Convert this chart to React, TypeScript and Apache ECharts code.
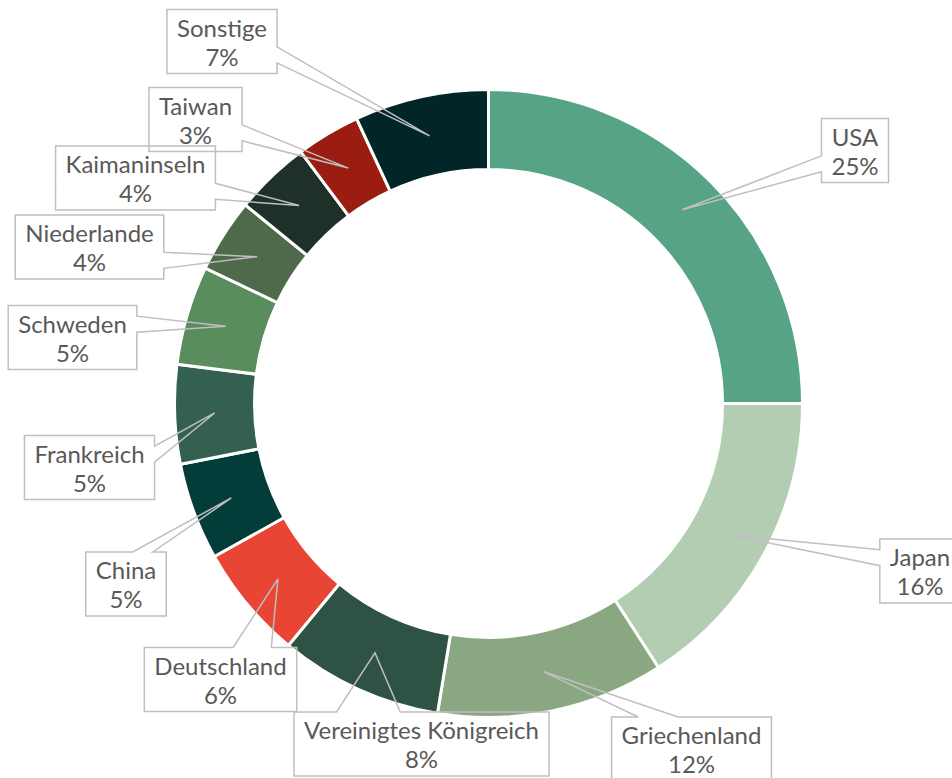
import React, { useEffect, useRef } from "react";
import * as echarts from "echarts";

// ---- data ----
const countries = [
  "USA",
  "Japan",
  "Griechenland",
  "Vereinigtes Königreich",
  "Deutschland",
  "China",
  "Frankreich",
  "Schweden",
  "Niederlande",
  "Kaimaninseln",
  "Taiwan",
  "Sonstige",
];
const shares = [25.0, 15.9, 11.7, 8.4, 5.9, 5.0, 5.1, 5.1, 3.8, 3.9, 3.3, 6.9];
const colors = [
  "#56A385",
  "#B3CDB3",
  "#89A882",
  "#2E5243",
  "#E84535",
  "#033D3A",
  "#34614F",
  "#5A8D5D",
  "#4F6A4A",
  "#1F3029",
  "#9B1C11",
  "#022628",
];

// ---- layout (label callout box centres and wedge side) ----
const labelCenterX = [855, 920, 691.5, 421.5, 220.5, 126, 89.5, 72.5, 89.5, 135.5, 195.5, 222];
const labelCenterY = [150.5, 571, 749, 744, 679.5, 584, 467.5, 337.5, 247, 178, 119.5, 41.5];
const labelSide = ["left", "left", "top", "top", "top", "top", "right", "right", "right", "right", "right", "right"];

const W = 952;
const H = 778;
const CX = 488.5;
const CY = 403.5;
const R_IN = 234;
const R_OUT = 314;
const R_TIP = 274;
const FONT_SIZE = 24;
const LINE_H = 29;
const PAD_X = 10;
const PAD_Y = 3;
const FONT = "Lato, 'Open Sans', sans-serif";

function labelText(i: number, pct: number) {
  return `${countries[i]}\n${Math.round(pct)}%`;
}

function buildCallouts() {
  const total = shares.reduce((a, b) => a + b, 0);
  const canvas = document.createElement("canvas");
  const ctx = canvas.getContext("2d")!;
  ctx.font = `${FONT_SIZE}px Lato`;
  let cum = 0;
  const out: any[] = [];
  shares.forEach((v, i) => {
    const frac = (cum + v / 2) / total;
    cum += v;
    const th = frac * Math.PI * 2;
    const tip = [CX + R_TIP * Math.sin(th), CY - R_TIP * Math.cos(th)];
    const lines = labelText(i, (v / total) * 100).split("\n");
    const tw = Math.max(...lines.map((l) => ctx.measureText(l).width));
    const w = tw + PAD_X * 2;
    const h = LINE_H * lines.length + PAD_Y * 2;
    const cx = labelCenterX[i];
    const cy = labelCenterY[i];
    const L = cx - w / 2;
    const R = cx + w / 2;
    const T = cy - h / 2;
    const B = cy + h / 2;
    const side = labelSide[i];
    const pts: number[][] = [];
    const vertical = side === "left" || side === "right";
    const f = vertical
      ? tip[1] > cy
        ? [7 / 12, 10 / 12]
        : [2 / 12, 5 / 12]
      : tip[0] > cx
      ? [7 / 12, 10 / 12]
      : [2 / 12, 5 / 12];
    const x1 = L + f[0] * w;
    const x2 = L + f[1] * w;
    const y1 = T + f[0] * h;
    const y2 = T + f[1] * h;
    pts.push([L, T]);
    if (side === "top") pts.push([x1, T], tip, [x2, T]);
    pts.push([R, T]);
    if (side === "right") pts.push([R, y1], tip, [R, y2]);
    pts.push([R, B]);
    if (side === "bottom") pts.push([x2, B], tip, [x1, B]);
    pts.push([L, B]);
    if (side === "left") pts.push([L, y2], tip, [L, y1]);
    out.push({
      type: "polygon",
      silent: true,
      z: 5,
      shape: { points: pts },
      style: { fill: "rgba(0,0,0,0)", stroke: "#BFBFBF", lineWidth: 1.5 },
    });
  });
  return out;
}

export default function App() {
  const ref = useRef<HTMLDivElement>(null);
  useEffect(() => {
    if (!ref.current) return;
    const chart = echarts.init(ref.current, null, { renderer: "svg" });
    const data = countries.map((name, i) => ({
      name,
      value: shares[i],
      itemStyle: { color: colors[i] },
    }));
    const option: any = {
      animation: false,
      backgroundColor: "#ffffff",
      graphic: buildCallouts(),
      series: [
        {
          type: "pie",
          z: 1,
          center: [CX, CY],
          radius: [R_IN, R_OUT],
          startAngle: 90,
          clockwise: true,
          silent: true,
          avoidLabelOverlap: false,
          label: { show: false },
          labelLine: { show: false },
          itemStyle: { borderColor: "#ffffff", borderWidth: 3 },
          emphasis: { disabled: true },
          data,
        },
        {
          type: "pie",
          z: 10,
          center: [CX, CY],
          radius: [R_IN, R_OUT],
          startAngle: 90,
          clockwise: true,
          silent: true,
          avoidLabelOverlap: false,
          itemStyle: { color: "rgba(0,0,0,0)", borderWidth: 0 },
          emphasis: { disabled: true },
          labelLine: { show: false },
          label: {
            show: true,
            position: "outside",
            formatter: (p: any) => labelText(p.dataIndex, p.percent),
            fontFamily: FONT,
            fontSize: FONT_SIZE,
            lineHeight: LINE_H,
            color: "#595959",
            align: "center",
          },
          labelLayout: (params: any) => ({
            x: labelCenterX[params.dataIndex],
            y: labelCenterY[params.dataIndex],
            align: "center",
            verticalAlign: "middle",
          }),
          data: countries.map((name, i) => ({ name, value: shares[i] })),
        },
      ],
    };
    chart.setOption(option);
    return () => chart.dispose();
  }, []);
  return (
    <div
      ref={ref}
      style={{ position: "fixed", left: 0, top: 0, width: W, height: H, background: "#fff" }}
    />
  );
}
